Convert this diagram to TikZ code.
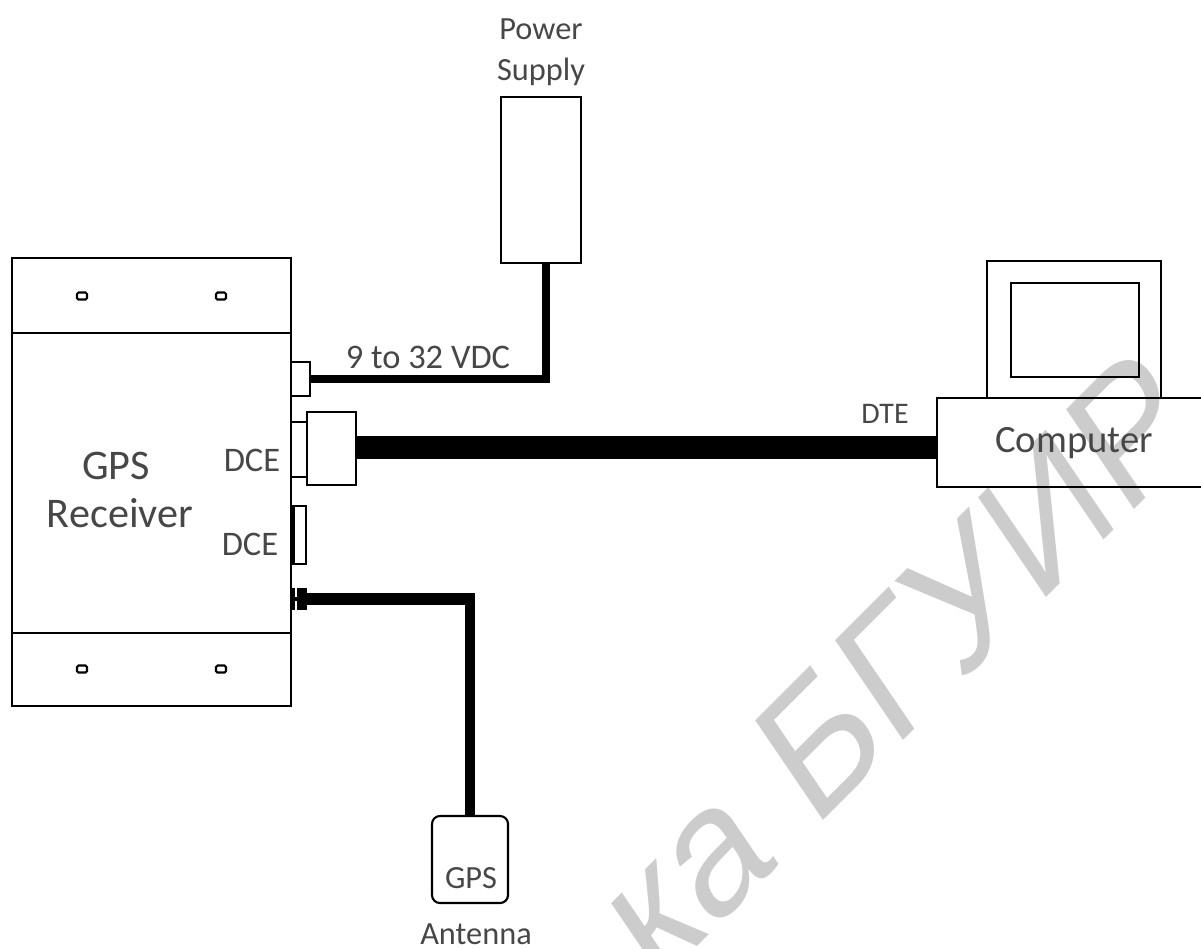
\documentclass[tikz,border=0pt]{standalone}
\usepackage{fontspec}
\setmainfont{Carlito}
\newfontfamily\markfont{Liberation Sans}
\usetikzlibrary{positioning}
\tikzset{
    box/.style={draw,line width=0.6pt,inner sep=0pt,outer sep=0pt},
    hole/.style={box,rounded corners=0.015cm,minimum width=0.1cm,minimum height=0.07cm},
    lab/.style={text=black!72,anchor=base,inner sep=0pt,font=\fontsize{9.8}{11}\selectfont},
    smalllab/.style={lab,font=\fontsize{9.2}{11}\selectfont},
    biglab/.style={lab,font=\fontsize{12}{14}\selectfont},
    solid part/.style={fill=black,inner sep=0pt,outer sep=0pt},
    cable/.style={line width=2pt},
}

\begin{document}
\begin{tikzpicture}[x=0.01cm,y=-0.01cm]
    \useasboundingbox (0,0) rectangle (1201,948);

    \begin{scope}[shift={(1206,438)},rotate=45,xslant=0.19]
        \node[transform shape,anchor=base east,text=black!20,inner sep=0pt,font=\markfont\fontsize{49}{52}\selectfont] (mark) at (0,0) {ка БГУИР};
    \end{scope}

    % receiver
    \node[box,minimum width=2.79cm,minimum height=0.75cm] (paneltop) at (151.5,295.5) {};
    \node[box,minimum width=2.79cm,minimum height=3cm,below=0pt of paneltop] (body) {};
    \node[box,minimum width=2.79cm,minimum height=0.73cm,below=0pt of body] (panelbot) {};
    \node[hole] (h1) at (82,296) {};
    \node[hole] (h2) at (221,296) {};
    \node[hole] (h3) at (82,669) {};
    \node[hole] (h4) at (221,669) {};
    \node[biglab] (gps) at (116,479) {GPS};
    \node[biglab] (rcv) at (120,527) {Receiver};

    % connectors on the receiver
    \node[box,minimum width=0.19cm,minimum height=0.34cm] (pwrcon) at (300.5,379) {};
    \node[box,minimum width=0.16cm,minimum height=0.55cm] (dceplug) at (299,449.5) {};
    \node[box,minimum width=0.49cm,minimum height=0.73cm] (dcecon) at (331.5,448.5) {};
    \node[box,minimum width=0.15cm,minimum height=0.58cm] (dcetwo) at (298.5,535) {};
    \node[solid part,minimum width=0.03cm,minimum height=0.58cm] (dceedge) at (293.5,535) {};
    \node[lab] (dcea) at (252,471) {DCE};
    \node[lab] (dceb) at (250,555) {DCE};
    \node[solid part,minimum width=0.03cm,minimum height=0.22cm] (antcona) at (293.5,599) {};
    \node[solid part,minimum width=0.1cm,minimum height=0.22cm] (antconb) at (302,599) {};
    \draw[line width=1pt] (antcona) -- (antconb);

    % power supply
    \node[box,minimum width=0.8cm,minimum height=1.66cm] (psu) at (541,180) {};
    \node[smalllab] (pwr) at (541,39) {Power};
    \node[smalllab] (sup) at (541,80) {Supply};
    \coordinate[xshift=0.05cm] (psuin) at (psu.south);
    \draw[cable] (pwrcon.east) -| (psuin);
    \node[lab] (vdc) at (428,368) {9 to 32 VDC};

    % computer
    \node[box,minimum width=2.73cm,minimum height=0.89cm] (comp) at (1073.5,442.5) {};
    \node[box,minimum width=1.74cm,minimum height=1.37cm] (mon) at (1074,329.5) {};
    \node[box,minimum width=1.28cm,minimum height=0.94cm] (scr) at (1075,330) {};
    \node[lab,font=\fontsize{11}{13}\selectfont] (comptxt) at (1074,452) {Computer};
    \node[lab,font=\fontsize{8.5}{10}\selectfont] (dte) at (885,423) {DTE};
    \coordinate (dteport) at (937,447.5);
    \draw[line width=6.5pt] (dcecon.east |- dteport) -- (dteport);

    % antenna
    \node[box,rounded corners=0.08cm,minimum width=0.76cm,minimum height=0.87cm] (ant) at (470,859.5) {};
    \node[smalllab] (anta) at (471,888) {GPS};
    \node[smalllab] (antb) at (476,944) {Antenna};
    \coordinate (antbend) at (ant.north |- antconb.east);
    \draw[line width=3.4pt] (antconb.east) -- ([xshift=0.045cm]antbend);
    \draw[line width=2.6pt] ([yshift=0.06cm]antbend) -- (ant.north);
\end{tikzpicture}
\end{document}
